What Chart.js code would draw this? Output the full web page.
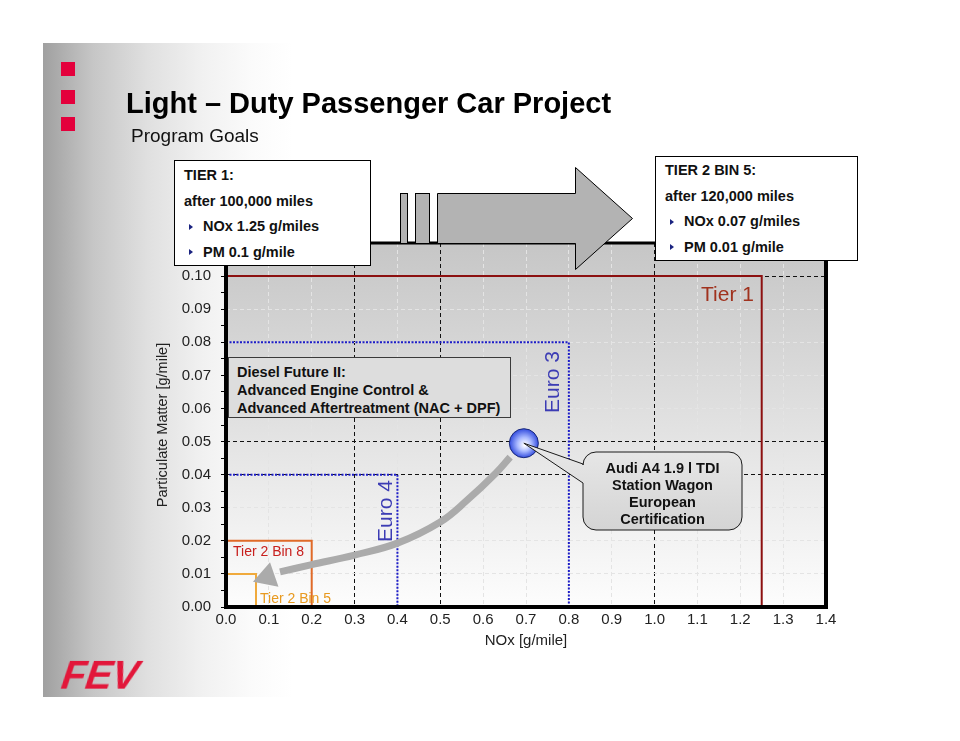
<!DOCTYPE html>
<html><head><meta charset="utf-8">
<script src="https://cdn.jsdelivr.net/npm/chart.js@4.4.1/dist/chart.umd.min.js"></script>
<style>
html,body{margin:0;padding:0;background:#fff;}
#wrap{position:relative;width:960px;height:741px;overflow:hidden;font-family:"Liberation Sans",Arial,Helvetica,sans-serif;}
#slide{position:absolute;left:43px;top:43px;width:872px;height:654px;background:linear-gradient(to right,#a0a0a0 0px,#c6c6c6 50px,#e0e0e0 105px,#f1f1f1 160px,#fbfbfb 210px,#fff 250px);}
canvas{position:absolute;left:0;top:0;}
.t{position:absolute;white-space:nowrap;line-height:1;}
.sq{position:absolute;left:61px;width:14px;height:14px;background:#e4003c;}
.box{position:absolute;background:#fff;border:1px solid #000;box-sizing:border-box;font-weight:bold;font-size:14.5px;line-height:25.7px;color:#111;white-space:nowrap;}
.bl{display:inline-block;width:0;height:0;border-left:4px solid #1a2380;border-top:3.5px solid transparent;border-bottom:3.5px solid transparent;margin:0 10px 2px 5px;vertical-align:middle;}
.rot{transform-origin:0 0;transform:rotate(-90deg);}
</style></head>
<body>
<div id="wrap">
  <div id="slide"></div>
  <canvas id="c" width="960" height="741"></canvas>
  <div class="sq" style="top:62px"></div>
  <div class="sq" style="top:90px"></div>
  <div class="sq" style="top:117px"></div>
  <div class="t" style="left:126px;top:88.5px;font-size:29px;font-weight:bold;color:#000">Light – Duty Passenger Car Project</div>
  <div class="t" style="left:131px;top:126px;font-size:19px;color:#111">Program Goals</div>

  <div class="box" style="left:174px;top:160px;width:197px;height:106px;padding:2px 0 0 9px">
    <div>TIER 1:</div>
    <div>after 100,000 miles</div>
    <div><span class="bl"></span>NOx 1.25 g/miles</div>
    <div><span class="bl"></span>PM 0.1 g/mile</div>
  </div>
  <div class="box" style="left:655px;top:156px;width:203px;height:105px;padding:1px 0 0 9px">
    <div>TIER 2 BIN 5:</div>
    <div>after 120,000 miles</div>
    <div><span class="bl"></span>NOx 0.07 g/miles</div>
    <div><span class="bl"></span>PM 0.01 g/mile</div>
  </div>

  <div class="t" style="left:701px;top:283px;font-size:21px;color:#a0321e">Tier 1</div>
  <div class="t rot" style="left:541px;top:413px;font-size:21px;color:#3c3cb4">Euro 3</div>
  <div class="t rot" style="left:374px;top:542px;font-size:21px;color:#3c3cb4">Euro 4</div>
  <div class="t" style="left:233px;top:543.5px;font-size:14px;color:#c8201e">Tier 2 Bin 8</div>
  <div class="t" style="left:260px;top:590.5px;font-size:14px;color:#e89a20">Tier 2 Bin 5</div>

  <div style="position:absolute;left:228px;top:357px;width:283px;height:61px;box-sizing:border-box;background:#dddddd;border:1px solid #3a3a3a;padding:5px 0 0 8px;font-weight:bold;font-size:14.5px;line-height:18px;color:#111;white-space:nowrap">
    <div>Diesel Future II:</div>
    <div>Advanced Engine Control &amp;</div>
    <div>Advanced Aftertreatment (NAC + DPF)</div>
  </div>

  <div style="position:absolute;left:583px;top:459.5px;width:159px;text-align:center;font-weight:bold;font-size:14.5px;line-height:17px;color:#111;white-space:nowrap">
    <div>Audi A4 1.9 l TDI</div>
    <div>Station Wagon</div>
    <div>European</div>
    <div>Certification</div>
  </div>

  <div class="t" style="left:62px;top:655px;font-size:40px;font-weight:bold;font-style:italic;color:#e2173a;letter-spacing:-0.5px;transform:skewX(-8deg)">FEV</div>
</div>
<script>
// ---- data ----
const xTitle = 'NOx [g/mile]';
const yTitle = 'Particulate Matter [g/mile]';
const tier1X = [0, 1.25, 1.25];   const tier1Y = [0.10, 0.10, 0];
const euro3X = [0, 0.8, 0.8];     const euro3Y = [0.08, 0.08, 0];
const euro4X = [0, 0.4, 0.4];     const euro4Y = [0.04, 0.04, 0];
const bin8X  = [0, 0.2, 0.2];     const bin8Y  = [0.02, 0.02, 0];
const bin5X  = [0, 0.07, 0.07];   const bin5Y  = [0.01, 0.01, 0];
const audiX  = [0.695];           const audiY  = [0.0495];
const pathX  = [0.663, 0.63, 0.562, 0.5, 0.4, 0.3, 0.2, 0.126];
const pathY  = [0.0453, 0.0405, 0.0322, 0.0257, 0.0193, 0.0157, 0.0128, 0.0106];
const headX  = [0.096];           const headY  = [0.0091];
const majorGridX = [0.3, 0.5, 1.0];
const majorGridY = [0.04, 0.05, 0.10];

const pts = (xs, ys) => xs.map((x, i) => ({x, y: ys[i]}));

function ballFill(c) {
  const ch = c.chart;
  const xs = ch.scales && ch.scales.x, ys = ch.scales && ch.scales.y;
  if (!xs || !ys || !ch.chartArea) return '#4a66e8';
  const px = xs.getPixelForValue(audiX[0]), py = ys.getPixelForValue(audiY[0]);
  const g = ch.ctx.createRadialGradient(px + 1, py + 2, 0.5, px, py, 15);
  g.addColorStop(0, '#ffffff');
  g.addColorStop(0.45, '#a9b9ff');
  g.addColorStop(1, '#2b45dc');
  return g;
}
function gridX(c) {
  if (!c.tick) return '#e4e4e4';
  const v = c.tick.value;
  return majorGridX.some(m => Math.abs(m - v) < 1e-6) ? '#111' : '#e4e4e4';
}
function gridY(c) {
  if (!c.tick) return '#e4e4e4';
  const k = Math.round(c.tick.value * 1000);
  if (k % 10 !== 0) return 'rgba(0,0,0,0)';
  return majorGridY.some(m => Math.round(m * 1000) === k) ? '#111' : '#e4e4e4';
}

const deco = {
  id: 'deco',
  beforeDraw(chart) {
    const {ctx, chartArea: a} = chart;
    const g = ctx.createLinearGradient(0, a.top, 0, a.bottom);
    g.addColorStop(0, '#c6c6c6');
    g.addColorStop(0.55, '#e4e4e4');
    g.addColorStop(1, '#fdfdfd');
    ctx.save(); ctx.fillStyle = g;
    ctx.fillRect(a.left, a.top, a.right - a.left, a.bottom - a.top);
    ctx.restore();
  },
  afterDatasetsDraw(chart) {
    const {ctx, chartArea: a} = chart;
    ctx.save();
    // frame
    ctx.strokeStyle = '#000';
    ctx.lineWidth = 4;
    ctx.beginPath();
    ctx.moveTo(a.left, a.top - 1.5); ctx.lineTo(a.left, a.bottom);
    ctx.lineTo(a.right, a.bottom); ctx.lineTo(a.right, a.top - 1.5);
    ctx.stroke();
    ctx.lineWidth = 3;
    ctx.beginPath(); ctx.moveTo(a.left - 2, a.top); ctx.lineTo(a.right + 2, a.top); ctx.stroke();
    // callout
    const ball = chart.getDatasetMeta(0).data[0];
    const L = 583, R = 742, T = 452, B = 530, r = 13, p1 = 464, p2 = 483;
    ctx.beginPath();
    ctx.moveTo(L + r, T); ctx.lineTo(R - r, T); ctx.arcTo(R, T, R, T + r, r);
    ctx.lineTo(R, B - r); ctx.arcTo(R, B, R - r, B, r);
    ctx.lineTo(L + r, B); ctx.arcTo(L, B, L, B - r, r);
    ctx.lineTo(L, p2); ctx.lineTo(ball.x, ball.y); ctx.lineTo(L, p1);
    ctx.lineTo(L, T + r); ctx.arcTo(L, T, L + r, T, r);
    ctx.closePath();
    const cg = ctx.createLinearGradient(0, T, 0, B);
    cg.addColorStop(0, '#e6e6e6'); cg.addColorStop(1, '#d4d4d4');
    ctx.fillStyle = cg; ctx.fill();
    ctx.lineWidth = 1; ctx.strokeStyle = '#1a1a1a'; ctx.stroke();
    ctx.restore();
  },
  afterDraw(chart) {
    const ctx = chart.ctx;
    ctx.save();
    ctx.fillStyle = '#b3b3b3'; ctx.strokeStyle = '#000'; ctx.lineWidth = 1;
    [[400.5, 193.5, 7, 50], [415.5, 193.5, 14, 50]].forEach(b => { ctx.fillRect(b[0], b[1], b[2], b[3]); ctx.strokeRect(b[0], b[1], b[2], b[3]); });
    ctx.beginPath();
    ctx.moveTo(437.5, 193.5); ctx.lineTo(575.5, 193.5); ctx.lineTo(575.5, 167.5);
    ctx.lineTo(632.5, 218.5); ctx.lineTo(575.5, 269.5); ctx.lineTo(575.5, 243.5);
    ctx.lineTo(437.5, 243.5); ctx.closePath();
    ctx.fill(); ctx.stroke();
    ctx.restore();
  }
};

const regionLine = (label, xs, ys, color, dash) => ({
  label, data: pts(xs, ys), showLine: true, borderColor: color, borderWidth: 2,
  borderDash: dash || [], pointRadius: 0, tension: 0, fill: false
});

new Chart(document.getElementById('c'), {
  type: 'scatter',
  data: {
    datasets: [
      {label: 'Audi A4 1.9 l TDI', data: pts(audiX, audiY), pointRadius: 14.5, pointBorderWidth: 1,
       pointBorderColor: '#1b2a7a', pointBackgroundColor: ballFill, showLine: false},
      {label: 'path', data: pts(pathX, pathY), showLine: true, borderColor: '#ababab', borderWidth: 7,
       pointRadius: 0, tension: 0.4, fill: false, borderCapStyle: 'butt'},
      {label: 'head', data: pts(headX, headY), showLine: false, pointStyle: 'triangle', pointRotation: 251,
       pointRadius: 15, pointBackgroundColor: '#ababab', pointBorderColor: '#ababab', pointBorderWidth: 0},
      regionLine('Tier 1', tier1X, tier1Y, '#8c1010'),
      regionLine('Euro 3', euro3X, euro3Y, '#1c1cc8', [2, 1.5]),
      regionLine('Euro 4', euro4X, euro4Y, '#1c1cc8', [2, 1.5]),
      regionLine('Tier 2 Bin 8', bin8X, bin8Y, '#e06a28'),
      regionLine('Tier 2 Bin 5', bin5X, bin5Y, '#f0aa3c')
    ]
  },
  options: {
    responsive: false, animation: false, devicePixelRatio: 1,
    layout: {padding: {left: 150, top: 243, right: 134, bottom: 81}},
    plugins: {legend: {display: false}, tooltip: {enabled: false}},
    scales: {
      x: {
        type: 'linear', min: 0, max: 1.4,
        afterFit(s) { s.height = 53; },
        ticks: {stepSize: 0.1, autoSkip: false, maxRotation: 0, padding: 4, color: '#222',
                font: {size: 15, family: '"Liberation Sans", Arial, sans-serif'},
                callback: v => Number(v).toFixed(1)},
        grid: {color: gridX, lineWidth: 1, drawTicks: false},
        border: {display: false, dash: [4, 3]},
        title: {display: true, text: xTitle, color: '#222', padding: {top: 0, bottom: 10},
                font: {size: 15, family: '"Liberation Sans", Arial, sans-serif'}}
      },
      y: {
        type: 'linear', min: 0, max: 0.11,
        afterFit(s) { s.width = 76; },
        ticks: {stepSize: 0.005, autoSkip: false, padding: 10, color: '#222',
                font: {size: 15, family: '"Liberation Sans", Arial, sans-serif'},
                callback: v => { const k = Math.round(v * 1000); return (k % 10 !== 0 || k > 100) ? '' : Number(v).toFixed(2); }},
        grid: {color: gridY, lineWidth: 1, tickLength: 5, tickColor: '#000'},
        border: {display: false, dash: [4, 3]},
        title: {display: true, text: yTitle, color: '#222', padding: {top: 4, bottom: 0},
                font: {size: 14.5, family: '"Liberation Sans", Arial, sans-serif'}}
      }
    }
  },
  plugins: [deco]
});
</script>
</body></html>
